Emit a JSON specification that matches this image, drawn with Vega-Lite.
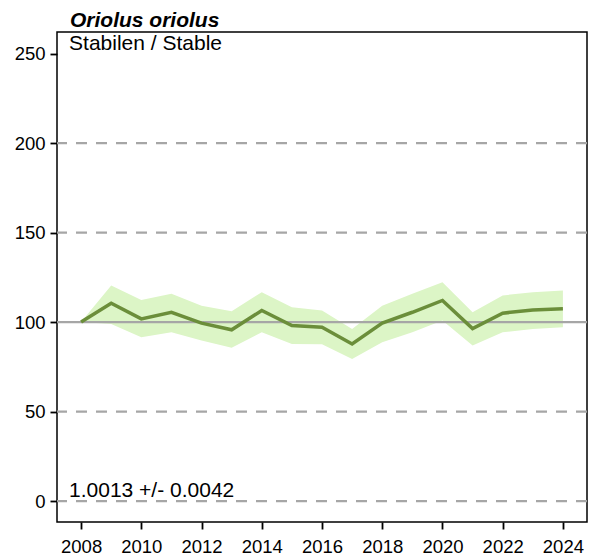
{
  "$schema": "https://vega.github.io/schema/vega-lite/v6.json",
  "width": 530,
  "height": 490,
  "autosize": {"type": "none"},
  "padding": {"left": 57, "top": 32, "right": 4, "bottom": 34},
  "background": "white",
  "config": {
    "font": "Liberation Sans",
    "view": {"stroke": "black", "strokeWidth": 1.5},
    "axis": {"grid": false, "domain": false, "ticks": true, "tickColor": "black", "tickWidth": 1.8, "tickSize": 7, "labelColor": "black", "labelFontSize": 18.5, "labelFont": "Liberation Sans", "title": null}
  },
  "title": {"text": "Oriolus oriolus", "anchor": "start", "frame": "group", "dx": 13, "offset": 1, "fontSize": 21, "fontStyle": "italic", "fontWeight": "bold", "font": "Liberation Sans", "color": "black"},
  "datasets": {
    "series": [
      {"year": 2008, "index": 100, "lower": 100, "upper": 100},
      {"year": 2009, "index": 110.5, "lower": 99, "upper": 120.5},
      {"year": 2010, "index": 101.8, "lower": 91.5, "upper": 112.4},
      {"year": 2011, "index": 105.5, "lower": 94.3, "upper": 115.8},
      {"year": 2012, "index": 99.4, "lower": 89.7, "upper": 109.2},
      {"year": 2013, "index": 95.7, "lower": 85.6, "upper": 106.1},
      {"year": 2014, "index": 106.5, "lower": 94.3, "upper": 116.7},
      {"year": 2015, "index": 98.1, "lower": 87.8, "upper": 108.3},
      {"year": 2016, "index": 97.1, "lower": 87.6, "upper": 106.5},
      {"year": 2017, "index": 87.8, "lower": 79.4, "upper": 96.2},
      {"year": 2018, "index": 99.4, "lower": 88.7, "upper": 109.2},
      {"year": 2019, "index": 105.5, "lower": 94.3, "upper": 115.8},
      {"year": 2020, "index": 112.1, "lower": 100.9, "upper": 122.3},
      {"year": 2021, "index": 96.4, "lower": 86.9, "upper": 105.5},
      {"year": 2022, "index": 105.0, "lower": 94.3, "upper": 114.9},
      {"year": 2023, "index": 106.8, "lower": 96.2, "upper": 116.7},
      {"year": 2024, "index": 107.5, "lower": 97.1, "upper": 117.6}
    ],
    "dashed": [{"v": 0}, {"v": 50}, {"v": 150}, {"v": 200}],
    "solid": [{"v": 100}],
    "labels": [
      {"x": 2007.6, "y": 252.3, "label": "Stabilen / Stable"},
      {"x": 2007.6, "y": 2.2, "label": "1.0013 +/- 0.0042"}
    ]
  },
  "layer": [
    {
      "data": {"name": "series"},
      "mark": {"type": "area", "color": "#dcf5c6", "opacity": 1},
      "encoding": {
        "x": {"field": "year", "type": "quantitative", "scale": {"domain": [2007.2, 2024.8], "nice": false, "zero": false},
          "axis": {"values": [2008,2009,2010,2011,2012,2013,2014,2015,2016,2017,2018,2019,2020,2021,2022,2023,2024], "labelExpr": "datum.value % 2 == 0 ? format(datum.value, 'd') : ''", "labelPadding": 8, "labelFlush": false, "labelOverlap": false}},
        "y": {"field": "lower", "type": "quantitative", "scale": {"domain": [-11.7, 262.1], "nice": false, "zero": false},
          "axis": {"values": [0, 50, 100, 150, 200, 250], "labelPadding": 5}},
        "y2": {"field": "upper"}
      }
    },
    {
      "data": {"name": "dashed"},
      "mark": {"type": "rule", "color": "#a6a6a6", "strokeWidth": 2.2, "strokeDash": [11, 9]},
      "encoding": {"y": {"field": "v", "type": "quantitative"}}
    },
    {
      "data": {"name": "solid"},
      "mark": {"type": "rule", "color": "#a6a6a6", "strokeWidth": 2.2},
      "encoding": {"y": {"field": "v", "type": "quantitative"}}
    },
    {
      "data": {"name": "series"},
      "mark": {"type": "line", "color": "#6b8e3a", "strokeWidth": 3.5},
      "encoding": {
        "x": {"field": "year", "type": "quantitative"},
        "y": {"field": "index", "type": "quantitative"}
      }
    },
    {
      "data": {"name": "labels"},
      "mark": {"type": "text", "align": "left", "baseline": "alphabetic", "fontSize": 21, "color": "black", "font": "Liberation Sans"},
      "encoding": {
        "x": {"field": "x", "type": "quantitative"},
        "y": {"field": "y", "type": "quantitative"},
        "text": {"field": "label"}
      }
    }
  ]
}
